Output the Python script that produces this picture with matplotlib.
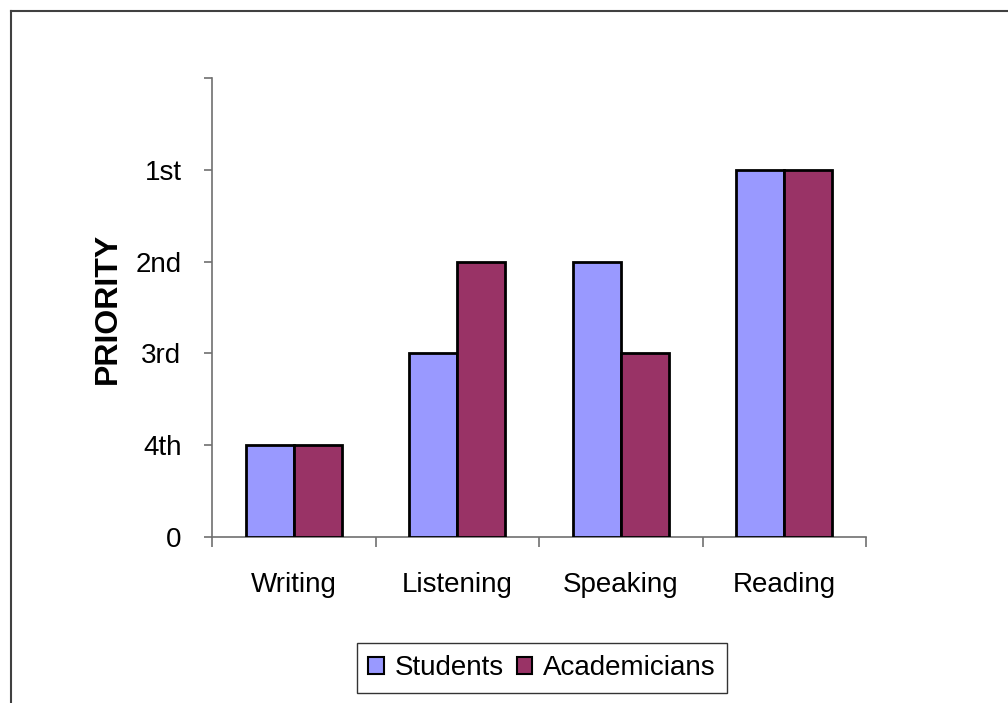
import matplotlib
matplotlib.use("Agg")
import matplotlib.pyplot as plt
from matplotlib.lines import Line2D
from matplotlib.font_manager import fontManager

skills = ["Writing", "Listening", "Speaking", "Reading"]
students = [1, 2, 3, 4]
academicians = [1, 3, 2, 4]
rank_ticks = [0, 1, 2, 3, 4, 5]
rank_labels = ["0", "4th", "3rd", "2nd", "1st", ""]
series_names = ["Students", "Academicians"]
series_colors = ["#9999FF", "#993366"]

names = {f.name for f in fontManager.ttflist}
narrow = "Liberation Sans Narrow" if "Liberation Sans Narrow" in names else "Liberation Sans"
label_size = 20 if narrow == "Liberation Sans" else 22

fig = plt.figure(figsize=(10.08, 7.03), dpi=100)
ax = fig.add_axes([212 / 1008, 1 - 537 / 703, (866 - 212) / 1008, (537 - 78) / 703])

width = 48 / 164
x = list(range(len(skills)))
for vals, name, col, off in zip([students, academicians], series_names, series_colors, [-0.5, 0.5]):
    ax.bar([i + off * width for i in x], vals, width=width, color=col,
           edgecolor="black", linewidth=2, label=name, zorder=3)

ax.set_xlim(-0.5, len(skills) - 0.5)
ax.set_ylim(0, 5)

axis_gray = "#707070"
for s in ["top", "right"]:
    ax.spines[s].set_visible(False)
for s in ["left", "bottom"]:
    ax.spines[s].set_color(axis_gray)
    ax.spines[s].set_linewidth(1.2)

ax.set_yticks(rank_ticks)
ax.set_yticklabels(rank_labels, fontfamily=narrow, fontsize=label_size)
ax.tick_params(axis="y", length=6, width=1.2, color=axis_gray, pad=16)

ax.set_xticks(x)
ax.set_xticklabels(skills, fontfamily=narrow, fontsize=label_size)
ax.set_xticks([i - 0.5 for i in range(len(skills) + 1)], minor=True)
ax.tick_params(axis="x", which="major", length=0, pad=25)
ax.tick_params(axis="x", which="minor", length=7, width=1.2, color=axis_gray)

ax.set_ylabel("PRIORITY", fontfamily="Liberation Sans", fontweight="bold", fontsize=23)
ax.yaxis.label.set_va("center")
ax.yaxis.set_label_coords((108 - 212) / 654, (537 - 308) / 459)

leg = fig.legend(loc="center", bbox_to_anchor=(542 / 1008, 1 - 668 / 703), ncol=2,
                 prop={"family": narrow, "size": label_size}, frameon=True, fancybox=False,
                 handlelength=0.55, handleheight=0.55, handletextpad=0.4,
                 columnspacing=0.45, borderpad=0.42, borderaxespad=0)
leg.get_frame().set_edgecolor("black")
leg.get_frame().set_linewidth(1.0)
for h in leg.legend_handles:
    h.set_linewidth(1.5)

# outer chart frame (top and left edges)
fig.add_artist(Line2D([11 / 1008, 1.0], [1 - 11 / 703] * 2, transform=fig.transFigure,
                      color="#404040", linewidth=1.5))
fig.add_artist(Line2D([11 / 1008] * 2, [0.0, 1 - 11 / 703], transform=fig.transFigure,
                      color="#404040", linewidth=1.5))

fig.savefig("out.png", dpi=100)
